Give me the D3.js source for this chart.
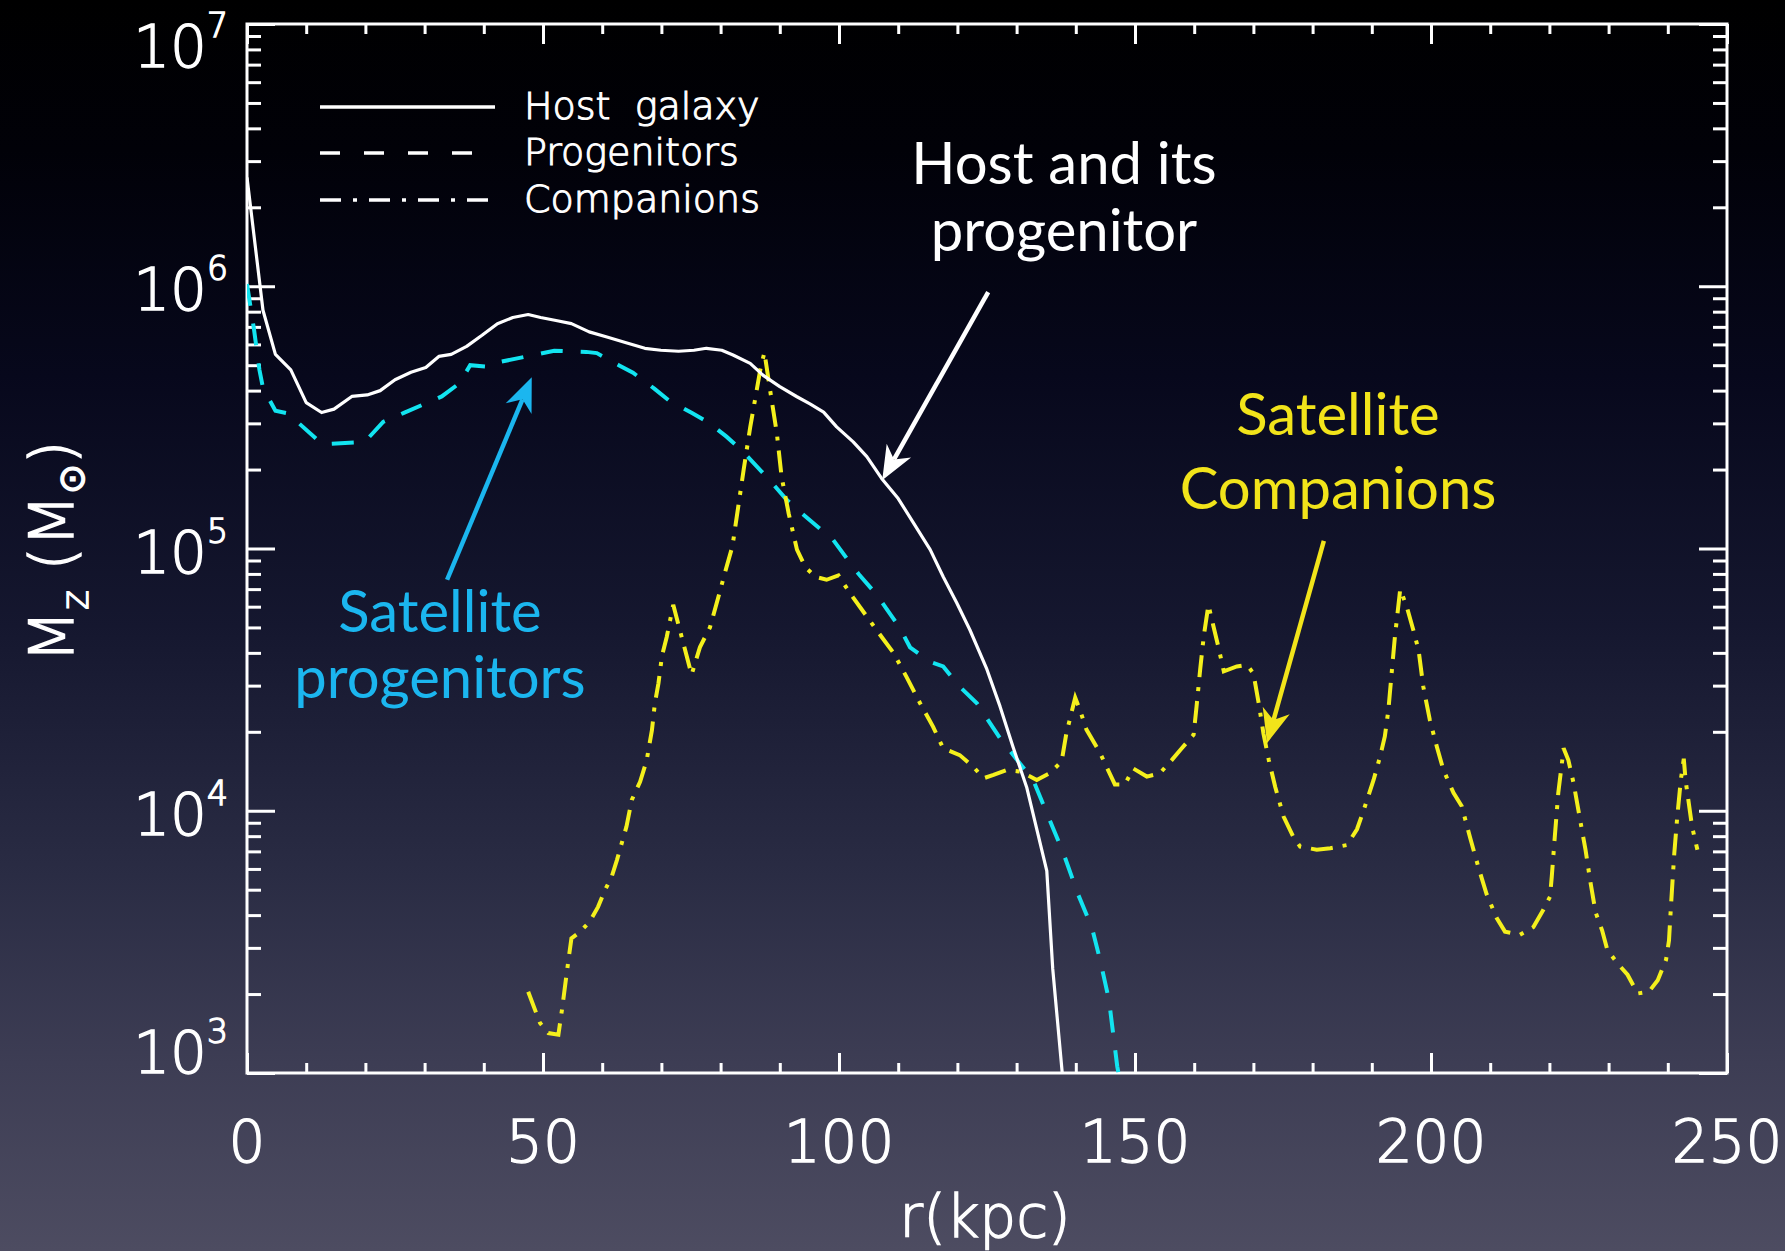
<!DOCTYPE html>
<html><head><meta charset="utf-8">
<script src="https://cdn.jsdelivr.net/npm/d3@7"></script>
<style>html,body{margin:0;padding:0;background:#000;} svg{display:block}</style>
</head><body>
<script>
// ---------------- data ----------------
const xMajorTicks = [0, 50, 100, 150, 200, 250];
const xTickLabels = ["0", "50", "100", "150", "200", "250"];
const yMajorTicks = [1e3, 1e4, 1e5, 1e6, 1e7];
const yTickExponents = ["3", "4", "5", "6", "7"];

const hostR = [0, 2.7, 4.8, 7.4, 10, 12.6, 14.7, 17.7, 20.3, 22.5, 25, 27.7, 30.2, 32.4, 34.5, 37.1, 39.7, 42.3, 44.9, 47.5, 49.6, 52.2, 54.8, 57.8, 60.8, 63.9, 67.2, 69.9, 72.9, 75.5, 77.6, 80.2, 82.1, 85, 87.2, 90, 92.9, 95.1, 97.4, 99.6, 102.4, 104.7, 107.2, 110, 112.6, 115.4, 117.6, 119.9, 122.1, 124.9, 127.2, 129.4, 131.7, 135.1, 136.1, 137.8];
const hostM = [2.6e6, 8.1e5, 5.5e5, 4.8e5, 3.6e5, 3.3e5, 3.4e5, 3.8e5, 3.85e5, 4.0e5, 4.4e5, 4.7e5, 4.9e5, 5.4e5, 5.5e5, 5.9e5, 6.5e5, 7.2e5, 7.6e5, 7.8e5, 7.6e5, 7.4e5, 7.2e5, 6.7e5, 6.4e5, 6.1e5, 5.8e5, 5.7e5, 5.65e5, 5.7e5, 5.8e5, 5.7e5, 5.47e5, 5.08e5, 4.57e5, 4.14e5, 3.79e5, 3.56e5, 3.31e5, 2.91e5, 2.55e5, 2.24e5, 1.85e5, 1.55e5, 1.25e5, 9.9e4, 7.8e4, 6.2e4, 4.9e4, 3.5e4, 2.5e4, 1.75e4, 1.23e4, 5.9e3, 2.5e3, 9.5e2];

const progR = [0, 1.2, 2.1, 2.7, 4.8, 7.3, 8.5, 12.7, 19.9, 23, 26.5, 32.9, 35.9, 37.7, 41, 42.8, 48.3, 51.9, 57.3, 59.1, 62.8, 65.2, 68.8, 71.2, 75.1, 77.8, 81, 83.8, 88.3, 91.2, 93.4, 99, 101.9, 103.5, 106.4, 108, 110.3, 112, 115.4, 117.6, 120.4, 123.3, 127.2, 130.6, 132.8, 135.1, 137.9, 140.3, 142.7, 144.1, 145.6, 147, 147.4];
const progM = [1.02e6, 6.8e5, 4.8e5, 4.1e5, 3.35e5, 3.26e5, 3.04e5, 2.5e5, 2.55e5, 3.04e5, 3.29e5, 3.8e5, 4.27e5, 5.0e5, 4.93e5, 5.15e5, 5.46e5, 5.68e5, 5.62e5, 5.56e5, 5.0e5, 4.68e5, 4.07e5, 3.68e5, 3.29e5, 3.04e5, 2.67e5, 2.34e5, 1.82e5, 1.53e5, 1.38e5, 1.08e5, 8.8e4, 7.9e4, 6.65e4, 5.9e4, 4.97e4, 4.2e4, 3.7e4, 3.55e4, 2.97e4, 2.57e4, 1.89e4, 1.51e4, 1.31e4, 9.8e3, 6.9e3, 4.85e3, 3.6e3, 2.7e3, 1.9e3, 1.06e3, 9.5e2];

const compR = [47.5, 49.5, 50.9, 52.6, 53.2, 54.3, 54.8, 56.3, 57.9, 59.3, 60.5, 61.6, 62.5, 64.1, 65, 66.4, 67.5, 68.4, 68.9, 69.5, 70.1, 70.9, 72, 75.1, 76.5, 78.2, 79.6, 81, 82, 83.9, 85, 86.7, 87.4, 88.3, 89.5, 90.3, 91.5, 92.9, 94.3, 96, 97.9, 99.9, 100.7, 102.4, 104.7, 106.9, 109.2, 111.4, 113.7, 115.9, 117.6, 120.4, 122.7, 124.4, 126.1, 128.3, 130.6, 132.3, 133.4, 135.6, 137.6, 138.4, 139.9, 140.7, 141.8, 144.1, 146.6, 148.3, 149.7, 152, 154.2, 156.2, 157.9, 159.9, 160.4, 161, 161.6, 162.4, 163.3, 164.1, 165, 167.2, 168.9, 170, 170.9, 171.7, 172.6, 173.7, 175.1, 176.8, 177.9, 180.7, 183, 185.8, 187.5, 188.6, 190.3, 191.4, 192.2, 192.8, 193.4, 193.9, 194.8, 195.9, 197, 197.9, 198.7, 199.8, 201, 202.1, 203.8, 205.2, 206.6, 208, 209.4, 211.1, 212.5, 215, 217.3, 219, 220.1, 220.4, 220.9, 221.5, 222.1, 222.4, 223.2, 224.1, 225.2, 226.1, 226.9, 227.8, 228.9, 229.8, 231.5, 233.2, 234.9, 236.8, 238.3, 239.7, 240.2, 240.5, 240.8, 241.1, 241.6, 242.2, 242.7, 243, 243.3, 244.1, 245];
const compM = [2.04e3, 1.55e3, 1.42e3, 1.4e3, 1.74e3, 2.7e3, 3.26e3, 3.46e3, 3.78e3, 4.3e3, 5.0e3, 5.6e3, 6.5e3, 8.7e3, 1.1e4, 1.29e4, 1.55e4, 2.03e4, 2.57e4, 3.06e4, 3.9e4, 4.6e4, 6.1e4, 3.3e4, 4.2e4, 5.0e4, 6.5e4, 8.5e4, 1.02e5, 2.0e5, 2.9e5, 4.8e5, 5.6e5, 4.1e5, 2.75e5, 1.88e5, 1.36e5, 9.9e4, 8.5e4, 7.8e4, 7.6e4, 7.9e4, 7.4e4, 6.5e4, 5.5e4, 4.7e4, 4.0e4, 3.24e4, 2.57e4, 2.09e4, 1.73e4, 1.63e4, 1.47e4, 1.33e4, 1.37e4, 1.43e4, 1.41e4, 1.35e4, 1.31e4, 1.39e4, 1.54e4, 1.97e4, 2.7e4, 2.42e4, 2.04e4, 1.66e4, 1.26e4, 1.26e4, 1.45e4, 1.35e4, 1.39e4, 1.56e4, 1.73e4, 1.95e4, 2.5e4, 3.44e4, 4.6e4, 6.1e4, 5.0e4, 4.2e4, 3.4e4, 3.55e4, 3.6e4, 3.34e4, 2.57e4, 1.97e4, 1.56e4, 1.23e4, 9.5e3, 7.9e3, 7.3e3, 7.1e3, 7.2e3, 7.4e3, 8.5e3, 1.0e4, 1.31e4, 1.61e4, 1.92e4, 2.42e4, 3.44e4, 4.6e4, 7.0e4, 6.0e4, 4.9e4, 4.1e4, 2.97e4, 2.22e4, 1.75e4, 1.43e4, 1.17e4, 1.04e4, 7.9e3, 6.1e3, 4.8e3, 3.9e3, 3.46e3, 3.36e3, 3.6e3, 4.2e3, 4.7e3, 5.6e3, 7.9e3, 1.17e4, 1.51e4, 1.73e4, 1.56e4, 1.27e4, 9.2e3, 7.1e3, 5.4e3, 4.1e3, 3.5e3, 2.94e3, 2.62e3, 2.37e3, 2.01e3, 2.04e3, 2.26e3, 2.7e3, 3.2e3, 4.2e3, 5.4e3, 6.9e3, 9.5e3, 1.31e4, 1.58e4, 1.31e4, 1.17e4, 8.7e3, 7.1e3];

const legendLabels = ["Host  galaxy", "Progenitors", "Companions"];
const annoHost = ["Host and its", "progenitor"];
const annoProg = ["Satellite", "progenitors"];
const annoComp = ["Satellite", "Companions"];
// arrow endpoints in data units [r, M]
const arrowHost = [[125.2, 9.5e5], [107.3, 1.82e5]];
const arrowProg = [[33.8, 7.6e4], [48.1, 4.5e5]];
const arrowComp = [[181.9, 1.07e5], [172.3, 1.81e4]];

// ---------------- layout ----------------
const W = 1785, H = 1251;
const L = 247, R = 1727, T = 24, B = 1073;
const tickFont = "'DejaVu Sans', sans-serif";
const annoFont = "Lato, 'Open Sans', sans-serif";

const svg = d3.select("body").append("svg").attr("width", W).attr("height", H);
const defs = svg.append("defs");
const grad = defs.append("linearGradient").attr("id", "bg").attr("x1", 0).attr("y1", 0).attr("x2", 0).attr("y2", 1);
[[0, "#000000"], [0.12, "#010108"], [0.3, "#07081c"], [0.5, "#15172f"], [0.7, "#2a2c44"], [0.85, "#3d3d54"], [1, "#4d4c61"]]
  .forEach(([o, c]) => grad.append("stop").attr("offset", o).attr("stop-color", c));
svg.append("rect").attr("width", W).attr("height", H).attr("fill", "url(#bg)");

defs.append("clipPath").attr("id", "plot").append("rect")
  .attr("x", L).attr("y", T).attr("width", R - L).attr("height", B - T);

const x = d3.scaleLinear().domain([0, 250]).range([L, R]);
const y = d3.scaleLog().domain([1e3, 1e7]).range([B, T]);

// minor tick values
const xMinor = d3.range(0, 251, 10).filter(v => v % 50 !== 0);
const yMinor = [];
[1e3, 1e4, 1e5, 1e6].forEach(d => { for (let m = 2; m <= 9; m++) yMinor.push(m * d); });

function styleAxis(g) {
  g.select(".domain").remove();
  g.selectAll("line").attr("stroke", "#fff").attr("stroke-width", 3);
  g.selectAll("text").remove();
}
// bottom (ticks up)
svg.append("g").attr("transform", `translate(0,${B})`).call(d3.axisTop(x).tickValues(xMajorTicks).tickSize(20).tickSizeOuter(0)).call(styleAxis);
svg.append("g").attr("transform", `translate(0,${B})`).call(d3.axisTop(x).tickValues(xMinor).tickSize(10).tickSizeOuter(0)).call(styleAxis);
// top (ticks down)
svg.append("g").attr("transform", `translate(0,${T})`).call(d3.axisBottom(x).tickValues(xMajorTicks).tickSize(20).tickSizeOuter(0)).call(styleAxis);
svg.append("g").attr("transform", `translate(0,${T})`).call(d3.axisBottom(x).tickValues(xMinor).tickSize(10).tickSizeOuter(0)).call(styleAxis);
// left (ticks right)
svg.append("g").attr("transform", `translate(${L},0)`).call(d3.axisRight(y).tickValues(yMajorTicks).tickSize(28).tickSizeOuter(0)).call(styleAxis);
svg.append("g").attr("transform", `translate(${L},0)`).call(d3.axisRight(y).tickValues(yMinor).tickSize(14).tickSizeOuter(0)).call(styleAxis);
// right (ticks left)
svg.append("g").attr("transform", `translate(${R},0)`).call(d3.axisLeft(y).tickValues(yMajorTicks).tickSize(28).tickSizeOuter(0)).call(styleAxis);
svg.append("g").attr("transform", `translate(${R},0)`).call(d3.axisLeft(y).tickValues(yMinor).tickSize(14).tickSizeOuter(0)).call(styleAxis);

svg.append("rect").attr("x", L).attr("y", T).attr("width", R - L).attr("height", B - T)
  .attr("fill", "none").attr("stroke", "#fff").attr("stroke-width", 3);

// thin geometric-ish font, thickened with a stroke
function tickText(sel, size) {
  return sel.attr("fill", "#fff").attr("stroke", "#fff").attr("stroke-width", 1.4)
    .attr("font-family", tickFont).attr("font-weight", 200).attr("font-size", size);
}

// x tick labels
svg.append("g").selectAll("text").data(xMajorTicks).join("text")
  .attr("x", d => x(d)).attr("y", B + 89)
  .attr("text-anchor", "middle").call(tickText, 58)
  .text((d, i) => xTickLabels[i]);

// y tick labels 10^k
const yl = svg.append("g");
yMajorTicks.forEach((v, i) => {
  let base = y(v) + 24;
  if (base < T + 43) base = T + 43;
  if (base > B) base = B;
  const t = yl.append("text").attr("x", 228).attr("y", base).attr("text-anchor", "end").call(tickText, 58);
  t.append("tspan").text("10");
  t.append("tspan").attr("dy", -30).attr("font-size", 33).text(yTickExponents[i]);
});

// axis titles
svg.append("text").attr("x", x(125) - 2).attr("y", 1237).attr("text-anchor", "middle")
  .call(tickText, 58).text("r(kpc)");
const yt = svg.append("text").attr("transform", `translate(73,${(T + B) / 2 + 3}) rotate(-90)`)
  .attr("text-anchor", "middle").call(tickText, 61);
yt.append("tspan").text("M");
yt.append("tspan").attr("dy", 15).attr("font-size", 38).text("z");
yt.append("tspan").attr("dy", -15).text(" (M");
yt.append("tspan").attr("dy", 11).attr("font-size", 36).text("\u2299");
yt.append("tspan").attr("dy", -11).text(")");

// curves
const line = d3.line().x(d => x(d[0])).y(d => y(d[1]));
const cg = svg.append("g").attr("clip-path", "url(#plot)");
const hostData = hostR.map((r, i) => [r, hostM[i]]);
const progData = progR.map((r, i) => [r, progM[i]]);
const compData = compR.map((r, i) => [r, compM[i]]);
cg.append("path").datum(progData).attr("d", line).attr("fill", "none")
  .attr("stroke", "#12e4f0").attr("stroke-width", 4).attr("stroke-dasharray", "22,18");
cg.append("path").datum(compData).attr("d", line).attr("fill", "none")
  .attr("stroke", "#f4f01c").attr("stroke-width", 4).attr("stroke-dasharray", "22,10,4,10");
cg.append("path").datum(hostData).attr("d", line).attr("fill", "none")
  .attr("stroke", "#fff").attr("stroke-width", 3.2).attr("stroke-linejoin", "round");

// legend
const legDash = ["none", "20,24", "21,12,4,12"];
const legY = [107, 153, 200];
legendLabels.forEach((lab, i) => {
  svg.append("line").attr("x1", 320).attr("x2", 495).attr("y1", legY[i]).attr("y2", legY[i])
    .attr("stroke", "#fff").attr("stroke-width", 3.5).attr("stroke-dasharray", legDash[i]);
  svg.append("text").attr("x", 524).attr("y", legY[i] + 12).call(tickText, 38)
    .attr("stroke-width", 1.1)
    .attr("xml:space", "preserve").style("white-space", "pre").text(lab);
});

// annotations
function annoText(lines, cx, baselines, color) {
  lines.forEach((s, i) => svg.append("text").attr("x", cx).attr("y", baselines[i])
    .attr("text-anchor", "middle").attr("fill", color).attr("font-family", annoFont)
    .attr("font-size", 58).text(s));
}
annoText(annoHost, 1064, [184, 251], "#ffffff");
annoText(annoProg, 440, [632, 698], "#1bb6ef");
annoText(annoComp, 1338, [435, 509], "#f2e41a");

function arrow(pts, color) {
  const [p0, p1] = pts.map(d => [x(d[0]), y(d[1])]);
  const dx = p1[0] - p0[0], dy = p1[1] - p0[1];
  const len = Math.hypot(dx, dy), ux = dx / len, uy = dy / len;
  const hl = 34, hw = 14, notch = 24;
  const bx = p1[0] - ux * hl, by = p1[1] - uy * hl;
  const nx = p1[0] - ux * notch, ny = p1[1] - uy * notch;
  svg.append("line").attr("x1", p0[0]).attr("y1", p0[1]).attr("x2", nx).attr("y2", ny)
    .attr("stroke", color).attr("stroke-width", 4.5);
  svg.append("path").attr("d", `M${p1[0]},${p1[1]} L${bx - uy * hw},${by + ux * hw} L${nx},${ny} L${bx + uy * hw},${by - ux * hw} Z`)
    .attr("fill", color);
}
arrow(arrowHost, "#ffffff");
arrow(arrowProg, "#1bb6ef");
arrow(arrowComp, "#f2e41a");
</script>
</body></html>
